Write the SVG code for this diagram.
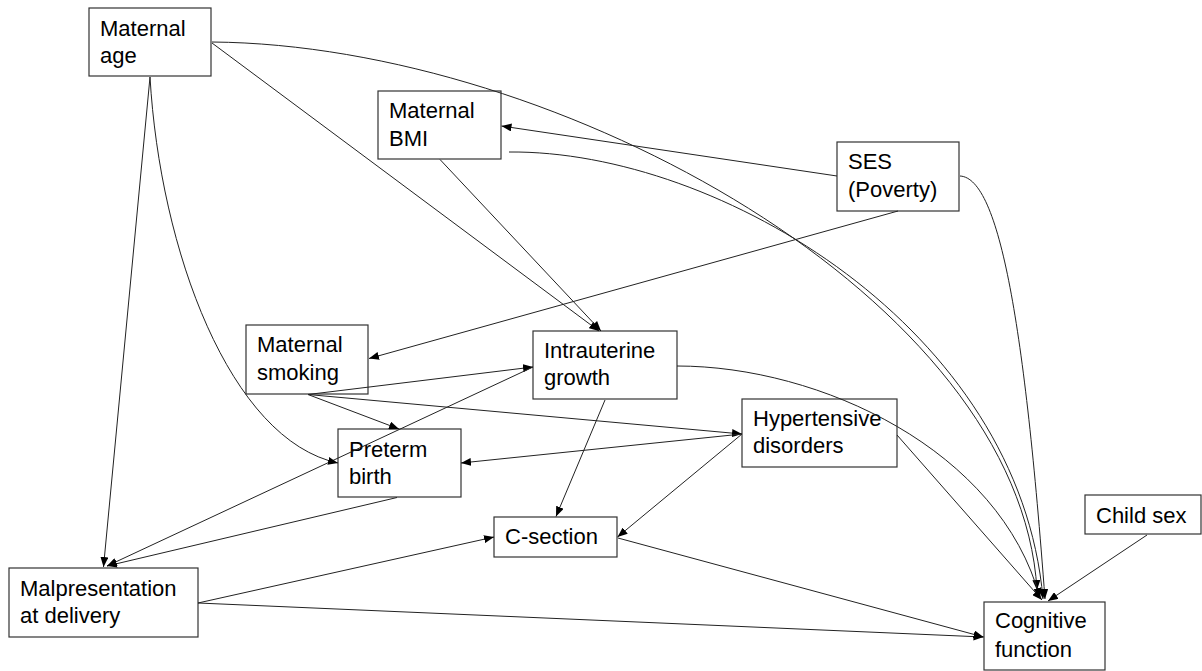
<svg xmlns="http://www.w3.org/2000/svg" width="1202" height="671" viewBox="0 0 1202 671">
<style>
.box{fill:#fff;stroke:#333;stroke-width:1.2}
.lbl{font-family:"Liberation Sans",Arial,sans-serif;font-size:22px;fill:#000}
.e{fill:none;stroke:#222;stroke-width:1;marker-end:url(#ah)}
</style>
<defs>
<marker id="ah" markerUnits="userSpaceOnUse" markerWidth="10" markerHeight="8" refX="10" refY="4" orient="auto">
<path d="M0,0 L10,4 L0,8 Z" fill="#000"/>
</marker>
</defs>
<rect width="1202" height="671" fill="#fff"/>
<g id="maternal-age"><rect class="box" x="89" y="8" width="122" height="68"/><text class="lbl" x="100" y="36">Maternal</text><text class="lbl" x="100" y="63">age</text></g>
<g id="maternal-bmi"><rect class="box" x="378" y="91" width="123" height="68"/><text class="lbl" x="389" y="118">Maternal</text><text class="lbl" x="389" y="146">BMI</text></g>
<g id="ses"><rect class="box" x="837" y="142" width="122" height="69"/><text class="lbl" x="848" y="169">SES</text><text class="lbl" x="848" y="197">(Poverty)</text></g>
<g id="maternal-smoking"><rect class="box" x="246" y="325" width="122" height="69"/><text class="lbl" x="257" y="352">Maternal</text><text class="lbl" x="257" y="380">smoking</text></g>
<g id="intrauterine-growth"><rect class="box" x="533" y="331" width="144" height="68"/><text class="lbl" x="544" y="358">Intrauterine</text><text class="lbl" x="544" y="385">growth</text></g>
<g id="preterm-birth"><rect class="box" x="338" y="429" width="123" height="68"/><text class="lbl" x="349" y="457">Preterm</text><text class="lbl" x="349" y="484">birth</text></g>
<g id="hypertensive-disorders"><rect class="box" x="742" y="399" width="155" height="68"/><text class="lbl" x="753" y="426">Hypertensive</text><text class="lbl" x="753" y="453">disorders</text></g>
<g id="c-section"><rect class="box" x="494" y="517" width="123" height="40"/><text class="lbl" x="505" y="544">C-section</text></g>
<g id="malpresentation"><rect class="box" x="9" y="568" width="189" height="69"/><text class="lbl" x="20" y="596">Malpresentation</text><text class="lbl" x="20" y="623">at delivery</text></g>
<g id="child-sex"><rect class="box" x="1085" y="495" width="116" height="39"/><text class="lbl" x="1096" y="523">Child sex</text></g>
<g id="cognitive-function"><rect class="box" x="984" y="602" width="121" height="68"/><text class="lbl" x="995" y="628">Cognitive</text><text class="lbl" x="995" y="657">function</text></g>
<g id="connectors">
<path class="e" d="M150,77 L103.5,567"/>
<path class="e" d="M212,43 L599,331"/>
<path class="e" d="M440,159.5 L601,331"/>
<path class="e" d="M837,176 L501.5,126"/>
<path class="e" d="M898,211 L369,358.5"/>
<path class="e" d="M308,394.5 L533,367"/>
<path class="e" d="M308,394.5 L399,429"/>
<path class="e" d="M308,394.5 L742,434"/>
<path class="e" d="M533,367 L107,566"/>
<path class="e" d="M397,497.5 L107,566"/>
<path class="e" d="M742,434 L461,463"/>
<path class="e" d="M605,400 L556,516.5"/>
<path class="e" d="M742,434 L617.5,537"/>
<path class="e" d="M198,603 L494,537"/>
<path class="e" d="M198,603 L983.5,637"/>
<path class="e" d="M618,538 L983.5,637"/>
<path class="e" d="M897,435 L1042,600"/>
<path class="e" d="M1147,535 L1048,601"/>
<path class="e" d="M150,77 C160,250 230,440 338,463"/>
<path class="e" d="M212,42 C560,45 1020,300 1037,590"/>
<path class="e" d="M509,152 C720,150 1020,330 1043,599"/>
<path class="e" d="M960,176 C1000,178 1025,330 1045,599"/>
<path class="e" d="M677,366 C820,366 1000,450 1040,598"/>
</g>
</svg>
